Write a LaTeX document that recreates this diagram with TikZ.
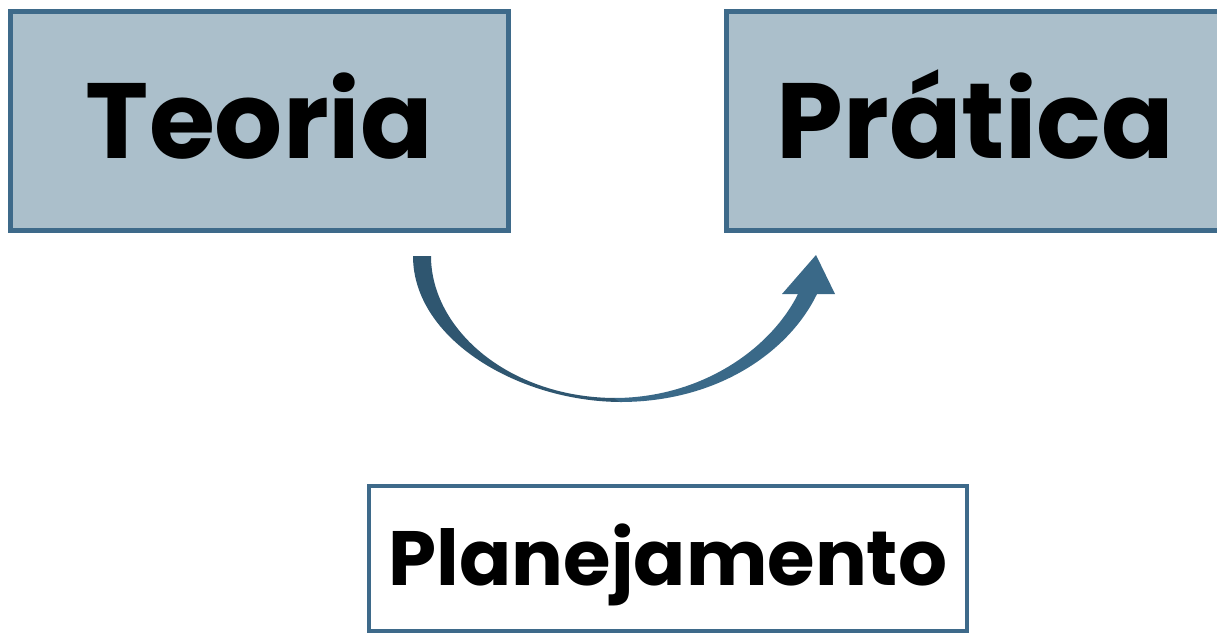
\documentclass[tikz,border=0pt]{standalone}
\usepackage{fontspec}
\setmainfont{Poppins}
\usetikzlibrary{positioning}
\definecolor{boxline}{HTML}{3E6A8A}
\definecolor{boxfill}{HTML}{ABBFCB}
\definecolor{arrowblue}{HTML}{3A6988}
\definecolor{arrowdark}{HTML}{2F5670}
\tikzset{
	topbox/.style={draw=boxline, fill=boxfill, line width=5pt, minimum width=498pt,
		minimum height=219pt, text height=75pt, text depth=0pt, inner sep=0pt,
		font=\fontsize{107}{110}\selectfont\bfseries},
	planbox/.style={draw=boxline, fill=white, line width=4pt, minimum width=598pt,
		minimum height=145pt, text height=54pt, text depth=0pt, inner sep=0pt,
		font=\fontsize{77}{80}\selectfont\bfseries}
}

\begin{document}
\begin{tikzpicture}[x=1pt, y=-1pt]
	\useasboundingbox (0,0) rectangle (1217,635);
	% theory and practice
	\node[topbox] (teoria) at (259.5,121) {Teoria};
	\node[topbox] (pratica) at (975.5,121) {Prática};
	% planning
	\node[planbox] (plan) at (668,558.5) {Planejamento};
	% curved arrow
	\fill[arrowdark] (413,256) .. controls (413,340) and (520,402) .. (622,402)
		-- (616,398) .. controls (510,398) and (431,330) .. (431,256) -- cycle;
	\fill[arrowblue] (620,402) .. controls (720,402) and (790,350) .. (817,294)
		-- (835,294) -- (816,255) -- (782,294) -- (798,294)
		.. controls (770,350) and (700,398) .. (614,398) -- cycle;
\end{tikzpicture}
\end{document}
